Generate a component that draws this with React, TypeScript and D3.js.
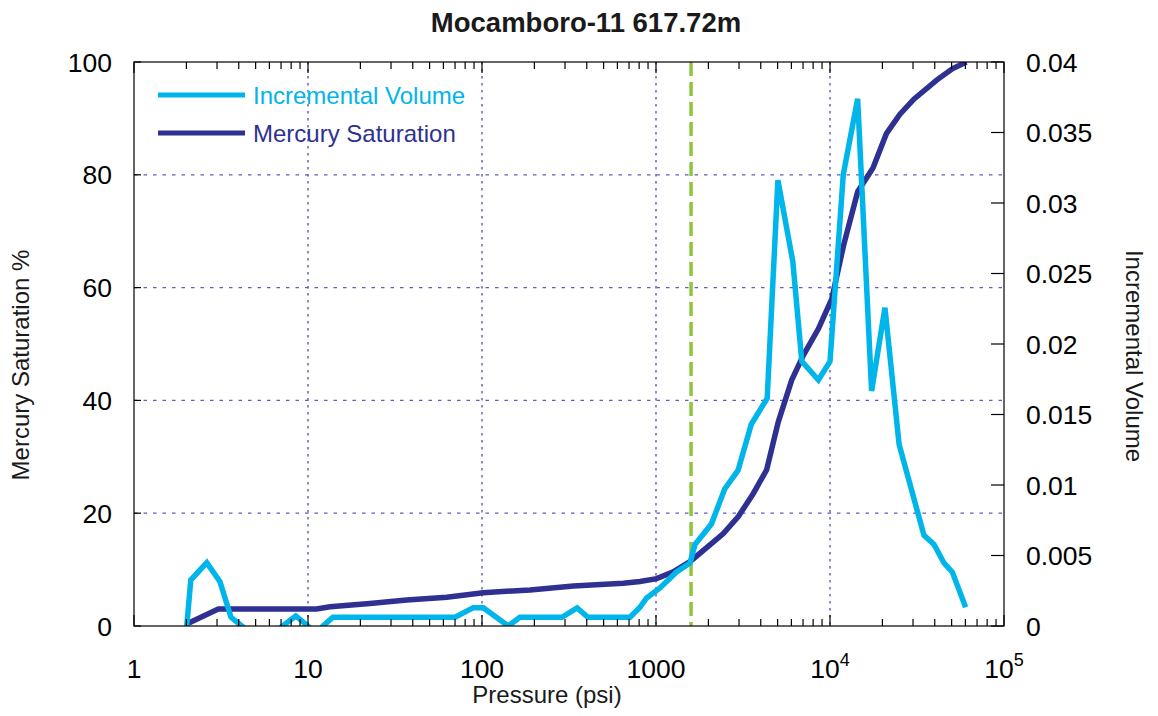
import * as d3 from "d3";

// Mercury saturation curve (left axis, %)
const satPressure = [2.05, 3.05, 11.2, 13.4, 22.7, 36.9, 62.7, 101.7, 189, 335, 649, 809, 1009, 1257, 1567, 2042, 2437, 2972, 3625, 4325, 5044, 6025, 7028, 8575, 10240, 11970, 14420, 17660, 21090, 25180, 30340, 41020, 50470, 60830];
const saturation = [0.5, 3.0, 3.0, 3.4, 4.0, 4.6, 5.1, 5.9, 6.4, 7.1, 7.6, 7.9, 8.4, 9.6, 11.4, 14.4, 16.4, 19.4, 23.5, 27.7, 36.2, 43.6, 48.0, 52.7, 58.0, 67.5, 77.0, 81.2, 87.3, 90.7, 93.4, 96.8, 98.8, 100];

// Incremental volume curve (right axis)
const incPressure = [2.01, 2.12, 2.62, 3.12, 3.61, 4.16, 5.0, 6.0, 7.16, 8.5, 10.0, 11.1, 12.2, 13.9, 17, 21, 27, 34, 43, 55, 70, 89.1, 101.7, 141.6, 165, 200, 240, 288, 352, 406, 480, 580, 709, 809, 883, 1054, 1312, 1568, 1675, 2081, 2482, 2959, 3530, 4355, 5019, 6115, 6887, 8575, 10000, 11920, 14420, 17340, 20690, 24960, 34670, 39620, 45190, 50470, 60170];
const incVolume = [0, 0.00326, 0.00449, 0.00314, 0.00062, 0, -0.0007, -0.0007, 0, 0.00071, 0, -0.0006, 0, 0.00062, 0.00062, 0.00062, 0.00062, 0.00062, 0.00062, 0.00062, 0.00062, 0.0013, 0.0013, 0, 0.00062, 0.00062, 0.00062, 0.00062, 0.00128, 0.00062, 0.00062, 0.00062, 0.00062, 0.00133, 0.00199, 0.0027, 0.00383, 0.00447, 0.00578, 0.00723, 0.00972, 0.01103, 0.01431, 0.01614, 0.03162, 0.02584, 0.01877, 0.01745, 0.01877, 0.03201, 0.03739, 0.01667, 0.02257, 0.01287, 0.00644, 0.00578, 0.00447, 0.00382, 0.00133];

const thresholdPressure = 1590;

const xTicks = [1, 10, 100, 1000, 10000, 100000];
const leftTicks = [0, 20, 40, 60, 80, 100];
const rightTicks = [0, 0.005, 0.01, 0.015, 0.02, 0.025, 0.03, 0.035, 0.04];
const rightTickLabels = ["0", "0.005", "0.01", "0.015", "0.02", "0.025", "0.03", "0.035", "0.04"];

const W = 1158;
const H = 716;
const FONT = "'Liberation Sans', Arial, Helvetica, sans-serif";
const CYAN = "#00b5ea";
const NAVY = "#2e3192";
const GRID = "#3c3cb0";

export default function App() {
  const x = d3.scaleLog().domain([1, 1e5]).range([134, 1004]);
  const yL = d3.scaleLinear().domain([0, 100]).range([626, 62]);
  const yR = d3.scaleLinear().domain([0, 0.04]).range([626, 62]);
  const [x0, x1] = x.range();
  const [yb, yt] = yL.range();

  const satLine = d3
    .line<number>()
    .x((_, i) => x(satPressure[i]))
    .y((d) => yL(d));
  const incLine = d3
    .line<number>()
    .x((_, i) => x(incPressure[i]))
    .y((d) => yR(d));

  // minor ticks 2..9 in each decade
  const minor: number[] = [];
  for (let d = 1; d < 1e5; d *= 10) for (let k = 2; k <= 9; k++) minor.push(k * d);

  const xLabel = (v: number) => {
    if (v < 1e4) return <tspan>{String(v)}</tspan>;
    const e = Math.round(Math.log10(v));
    return (
      <>
        <tspan>10</tspan>
        <tspan dy={-12} fontSize={18}>{e}</tspan>
      </>
    );
  };

  return (
    <svg
      width={W}
      height={H}
      style={{ position: "absolute", left: 0, top: 0, background: "#fff" }}
      fontFamily={FONT}
    >
      <defs>
        <clipPath id="plot">
          <rect x={x0} y={yt} width={x1 - x0} height={yb - yt} />
        </clipPath>
      </defs>

      {/* grid */}
      {xTicks.slice(1, -1).map((t) => (
        <line key={"gx" + t} x1={x(t)} x2={x(t)} y1={yt} y2={yb} stroke={GRID} strokeWidth={1.2} strokeDasharray="2.5,4.5" />
      ))}
      {leftTicks.slice(1, -1).map((t) => (
        <line key={"gy" + t} x1={x0} x2={x1} y1={yL(t)} y2={yL(t)} stroke="#5e5ec2" strokeWidth={1.2} strokeDasharray="3.5,6" />
      ))}

      {/* threshold line */}
      <line
        x1={x(thresholdPressure)}
        x2={x(thresholdPressure)}
        y1={yt}
        y2={yb}
        stroke="#8dc63f"
        strokeWidth={3.5}
        strokeDasharray="14,6"
      />

      <g clipPath="url(#plot)">
        <path d={satLine(saturation) || ""} fill="none" stroke={NAVY} strokeWidth={5.5} />
        <path d={incLine(incVolume) || ""} fill="none" stroke={CYAN} strokeWidth={5.5} />
      </g>

      {/* frame */}
      <rect x={x0} y={yt} width={x1 - x0} height={yb - yt} fill="none" stroke="#000" strokeWidth={1.2} />

      {/* x ticks, bottom and top */}
      {xTicks.map((t) => (
        <g key={"xt" + t}>
          <line x1={x(t)} x2={x(t)} y1={yb} y2={yb - 11} stroke="#000" strokeWidth={1.2} />
          <line x1={x(t)} x2={x(t)} y1={yt} y2={yt + 11} stroke="#000" strokeWidth={1.2} />
          <text x={x(t)} y={678} textAnchor="middle" fontSize={26.5} fill="#000">
            {xLabel(t)}
          </text>
        </g>
      ))}
      {minor.map((t) => (
        <g key={"mt" + t}>
          <line x1={x(t)} x2={x(t)} y1={yb} y2={yb - 7} stroke="#000" strokeWidth={1.2} />
          <line x1={x(t)} x2={x(t)} y1={yt} y2={yt + 7} stroke="#000" strokeWidth={1.2} />
        </g>
      ))}

      {/* left axis */}
      {leftTicks.map((t) => (
        <g key={"yl" + t}>
          <line x1={x0} x2={x0 + 7} y1={yL(t)} y2={yL(t)} stroke="#000" strokeWidth={1.2} />
          <text x={112} y={yL(t) + 9.5} textAnchor="end" fontSize={26.5} fill="#000">
            {t}
          </text>
        </g>
      ))}

      {/* right axis */}
      {rightTicks.map((t, i) => (
        <g key={"yr" + t}>
          <line x1={x1} x2={x1 - 13} y1={yR(t)} y2={yR(t)} stroke="#000" strokeWidth={1.2} />
          <text x={1026} y={yR(t) + 9.5} textAnchor="start" fontSize={26.5} fill="#000">
            {rightTickLabels[i]}
          </text>
        </g>
      ))}

      {/* titles */}
      <text x={586} y={32} textAnchor="middle" fontSize={27.5} fontWeight="bold" fill="#1a1a1a">
        Mocamboro-11 617.72m
      </text>
      <text x={547} y={703} textAnchor="middle" fontSize={24} fill="#1a1a1a">
        Pressure (psi)
      </text>
      <text transform="translate(29,365) rotate(-90)" textAnchor="middle" fontSize={24} fill="#1a1a1a">
        Mercury Saturation %
      </text>
      <text transform="translate(1126,356) rotate(90)" textAnchor="middle" fontSize={24} fill="#1a1a1a">
        Incremental Volume
      </text>

      {/* legend */}
      <line x1={158} x2={245} y1={95} y2={95} stroke={CYAN} strokeWidth={5} />
      <text x={253} y={103.5} fontSize={24} fill={CYAN}>
        Incremental Volume
      </text>
      <line x1={158} x2={245} y1={133} y2={133} stroke={NAVY} strokeWidth={5} />
      <text x={253} y={141.5} fontSize={24} fill={NAVY}>
        Mercury Saturation
      </text>
    </svg>
  );
}
